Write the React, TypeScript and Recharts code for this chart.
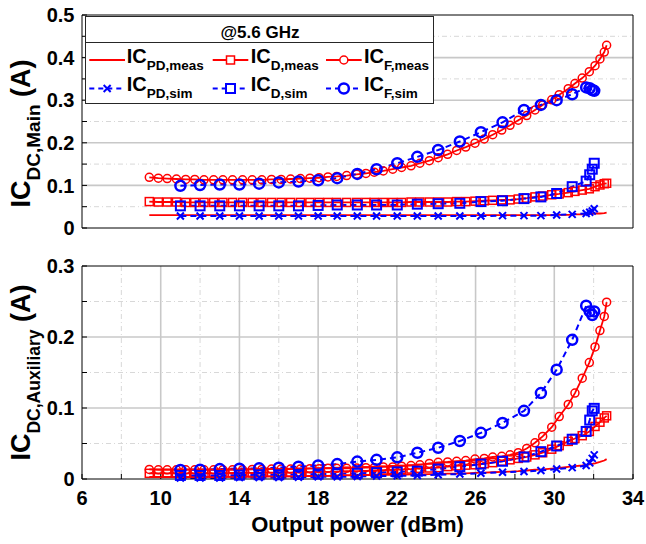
import React from 'react';
import { LineChart, Line, XAxis, YAxis, CartesianGrid, Legend } from 'recharts';

const FONT = '"Liberation Sans", Arial, Helvetica, sans-serif';
const RED = '#ff0000';
const BLUE = '#0000ff';

// ---------- data ----------
const measX = [9.42, 9.88, 10.33, 10.8, 11.27, 11.73, 12.2, 12.69, 13.16, 13.65, 14.16, 14.65, 15.14, 15.63, 16.12, 16.6, 17.1, 17.58, 18.05, 18.5, 18.94, 19.45, 19.96, 20.43, 20.85, 21.31, 21.79, 22.24, 22.72, 23.17, 23.65, 24.1, 24.58, 25.04, 25.5, 25.97, 26.44, 26.87, 27.33, 27.75, 28.17, 28.6, 29.02, 29.41, 29.87, 30.25, 30.71, 31.05, 31.42, 31.78, 32.07, 32.32, 32.54, 32.66];
const simX = [11, 12, 13, 14, 15, 16, 17, 18, 18.97, 19.99, 20.97, 22.02, 23.04, 24.1, 25.2, 26.27, 27.37, 28.46, 29.32, 30.12, 30.91, 31.62, 31.8, 31.93, 32.03];

// Main (top)
const mainPDmeas = [0.030, 0.030, 0.030, 0.030, 0.030, 0.030, 0.030, 0.030, 0.030, 0.030, 0.030, 0.030, 0.030, 0.030, 0.030, 0.030, 0.030, 0.030, 0.030, 0.030, 0.030, 0.030, 0.030, 0.030, 0.030, 0.030, 0.030, 0.030, 0.030, 0.030, 0.030, 0.030, 0.030, 0.030, 0.030, 0.030, 0.030, 0.030, 0.030, 0.030, 0.030, 0.030, 0.030, 0.030, 0.030, 0.031, 0.031, 0.032, 0.032, 0.033, 0.034, 0.034, 0.035, 0.036];
const mainDmeas = [0.062, 0.061, 0.061, 0.061, 0.060, 0.060, 0.060, 0.060, 0.060, 0.060, 0.060, 0.060, 0.060, 0.060, 0.060, 0.060, 0.060, 0.060, 0.060, 0.060, 0.060, 0.060, 0.060, 0.060, 0.060, 0.060, 0.060, 0.060, 0.061, 0.061, 0.061, 0.061, 0.061, 0.062, 0.062, 0.063, 0.064, 0.065, 0.066, 0.066, 0.068, 0.070, 0.073, 0.075, 0.078, 0.080, 0.083, 0.086, 0.089, 0.092, 0.097, 0.101, 0.104, 0.105];
const mainFmeas = [0.119, 0.117, 0.116, 0.115, 0.114, 0.114, 0.113, 0.113, 0.113, 0.113, 0.113, 0.113, 0.113, 0.114, 0.114, 0.115, 0.116, 0.117, 0.118, 0.120, 0.121, 0.123, 0.126, 0.128, 0.131, 0.134, 0.138, 0.142, 0.146, 0.152, 0.158, 0.165, 0.173, 0.182, 0.190, 0.199, 0.209, 0.219, 0.230, 0.241, 0.253, 0.264, 0.277, 0.289, 0.301, 0.313, 0.327, 0.339, 0.352, 0.367, 0.381, 0.397, 0.413, 0.429];
const mainPDsim = [0.028, 0.028, 0.028, 0.028, 0.028, 0.028, 0.028, 0.028, 0.028, 0.028, 0.028, 0.028, 0.028, 0.028, 0.028, 0.028, 0.029, 0.029, 0.029, 0.0305, 0.032, 0.034, 0.037, 0.040, 0.045];
const mainDsim = [0.052, 0.052, 0.052, 0.052, 0.052, 0.052, 0.052, 0.053, 0.054, 0.054, 0.054, 0.054, 0.056, 0.057, 0.058, 0.062, 0.064, 0.069, 0.073, 0.081, 0.097, 0.110, 0.125, 0.138, 0.152];
const mainFsim = [0.099, 0.101, 0.102, 0.102, 0.104, 0.107, 0.109, 0.112, 0.117, 0.127, 0.138, 0.152, 0.167, 0.183, 0.203, 0.225, 0.248, 0.277, 0.289, 0.300, 0.314, 0.330, 0.328, 0.324, 0.322];

// Auxiliary (bottom)
const auxPDmeas = [0.003, 0.003, 0.003, 0.003, 0.003, 0.003, 0.003, 0.003, 0.003, 0.003, 0.0035, 0.0035, 0.0035, 0.004, 0.004, 0.004, 0.004, 0.0045, 0.0045, 0.0045, 0.005, 0.005, 0.005, 0.0055, 0.0055, 0.006, 0.006, 0.006, 0.0065, 0.0065, 0.007, 0.007, 0.0075, 0.0075, 0.008, 0.0085, 0.009, 0.0095, 0.010, 0.0105, 0.011, 0.012, 0.013, 0.0135, 0.0145, 0.0155, 0.017, 0.018, 0.019, 0.0205, 0.022, 0.024, 0.026, 0.028];
const auxDmeas = [0.008, 0.008, 0.008, 0.008, 0.008, 0.008, 0.008, 0.008, 0.008, 0.0085, 0.0085, 0.0085, 0.009, 0.009, 0.009, 0.009, 0.0095, 0.0095, 0.010, 0.010, 0.0105, 0.011, 0.011, 0.0115, 0.012, 0.0125, 0.013, 0.0135, 0.014, 0.015, 0.0155, 0.016, 0.0175, 0.0185, 0.0195, 0.020, 0.0215, 0.023, 0.025, 0.027, 0.029, 0.031, 0.034, 0.037, 0.042, 0.047, 0.053, 0.057, 0.061, 0.067, 0.074, 0.080, 0.086, 0.089];
const auxFmeas = [0.0135, 0.013, 0.013, 0.013, 0.013, 0.013, 0.013, 0.013, 0.013, 0.013, 0.013, 0.0135, 0.0135, 0.014, 0.014, 0.014, 0.014, 0.0145, 0.0145, 0.015, 0.015, 0.015, 0.0155, 0.016, 0.016, 0.017, 0.017, 0.018, 0.019, 0.020, 0.022, 0.0235, 0.024, 0.025, 0.026, 0.028, 0.029, 0.031, 0.032, 0.034, 0.037, 0.043, 0.051, 0.060, 0.073, 0.088, 0.105, 0.121, 0.142, 0.164, 0.186, 0.209, 0.229, 0.249];
const auxPDsim = [0.0015, 0.0015, 0.0015, 0.002, 0.002, 0.002, 0.0025, 0.003, 0.003, 0.0035, 0.004, 0.0045, 0.005, 0.006, 0.007, 0.008, 0.0095, 0.0105, 0.012, 0.014, 0.016, 0.019, 0.023, 0.029, 0.034];
const auxDsim = [0.005, 0.005, 0.005, 0.0055, 0.006, 0.006, 0.0065, 0.007, 0.0075, 0.008, 0.009, 0.010, 0.011, 0.014, 0.0173, 0.021, 0.025, 0.031, 0.0385, 0.0465, 0.056, 0.067, 0.083, 0.096, 0.0995];
const auxFsim = [0.0127, 0.013, 0.014, 0.0146, 0.015, 0.016, 0.0174, 0.019, 0.021, 0.0245, 0.027, 0.0305, 0.037, 0.044, 0.0535, 0.065, 0.079, 0.096, 0.121, 0.154, 0.196, 0.244, 0.236, 0.231, 0.236];

// ticks / grid
const xTicks = [6, 8, 10, 12, 14, 16, 18, 20, 22, 24, 26, 28, 30, 32, 34];
const xTickLabels = ['6', '', '10', '', '14', '', '18', '', '22', '', '26', '', '30', '', '34'];
const xMajor = [10, 14, 18, 22, 26, 30];
const xMinor = [8, 12, 16, 20, 24, 28, 32];
const mainYTicks = [0, 0.05, 0.1, 0.15, 0.2, 0.25, 0.3, 0.35, 0.4, 0.45, 0.5];
const mainYTickLabels = ['0', '', '0.1', '', '0.2', '', '0.3', '', '0.4', '', '0.5'];
const mainYMajor = [0.1, 0.2, 0.3, 0.4];
const mainYMinor = [0.05, 0.15, 0.25, 0.35, 0.45];
const auxYTicks = [0, 0.05, 0.1, 0.15, 0.2, 0.25, 0.3];
const auxYTickLabels = ['0', '', '0.1', '', '0.2', '', '0.3'];
const auxYMajor = [0.1, 0.2];
const auxYMinor = [0.05, 0.15, 0.25];

const legendTitle = '@5.6 GHz';
const legendMain = 'IC';
const legendSubs = ['PD,meas', 'D,meas', 'F,meas', 'PD,sim', 'D,sim', 'F,sim'];
const xTitle = 'Output power (dBm)';

const toPts = (xs: number[], ys: number[]) => xs.map((x, i) => ({ x, y: ys[i] }));

// ---------- markers ----------
type DP = { cx?: number; cy?: number; index?: number };
const redCircle = (p: DP) => (
  <circle key={`rc${p.index}`} cx={p.cx} cy={p.cy} r={4} fill="none" stroke={RED} strokeWidth={1.5} />
);
const redSquare = (p: DP) => (
  <rect key={`rs${p.index}`} x={(p.cx as number) - 4} y={(p.cy as number) - 4} width={8} height={8} fill="none" stroke={RED} strokeWidth={1.5} />
);
const blueCircle = (p: DP) => (
  <circle key={`bc${p.index}`} cx={p.cx} cy={p.cy} r={5} fill="none" stroke={BLUE} strokeWidth={2.5} />
);
const blueSquare = (p: DP) => (
  <rect key={`bs${p.index}`} x={(p.cx as number) - 4.5} y={(p.cy as number) - 4.5} width={9} height={9} fill="none" stroke={BLUE} strokeWidth={2} />
);
const blueCross = (p: DP) => {
  const cx = p.cx as number, cy = p.cy as number, h = 3.5;
  return (
    <path key={`bx${p.index}`} d={`M${cx - h},${cy - h}L${cx + h},${cy + h}M${cx - h},${cy + h}L${cx + h},${cy - h}`} stroke={BLUE} strokeWidth={2} fill="none" />
  );
};

// ---------- legend ----------
const legCols = [{ x0: 4.3, x1: 40, tx: 41.7 }, { x0: 127.7, x1: 163.3, tx: 165.7 }, { x0: 241, x1: 276.7, tx: 279 }];
const legRows = [{ base: 47.3, ly: 44 }, { base: 74.7, ly: 72.5 }];
const legMarkers = [null, 'rs', 'rc', 'bx', 'bs', 'bc'];

const legendMarker = (kind: string | null, cx: number, cy: number) => {
  if (kind === 'rs') return <rect x={cx - 4} y={cy - 4} width={8} height={8} fill="#fff" stroke={RED} strokeWidth={1.5} />;
  if (kind === 'rc') return <circle cx={cx} cy={cy} r={4} fill="#fff" stroke={RED} strokeWidth={1.5} />;
  if (kind === 'bs') return <rect x={cx - 4.5} y={cy - 4.5} width={9} height={9} fill="#fff" stroke={BLUE} strokeWidth={2} />;
  if (kind === 'bc') return <circle cx={cx} cy={cy} r={5} fill="#fff" stroke={BLUE} strokeWidth={2.5} />;
  if (kind === 'bx') {
    const h = 3.5;
    return <path d={`M${cx - h},${cy - h}L${cx + h},${cy + h}M${cx - h},${cy + h}L${cx + h},${cy - h}`} stroke={BLUE} strokeWidth={2} />;
  }
  return null;
};

const LegendBox = () => (
  <svg width={350} height={89} style={{ display: 'block' }} fontFamily={FONT} fontWeight="bold">
    <rect x={0.5} y={0.5} width={348} height={87} fill="#fff" stroke="#262626" strokeWidth={1} />
    <text x={175} y={22} textAnchor="middle" fontSize={17} fill="#000">{legendTitle}</text>
    <line x1={0.5} x2={348.5} y1={26.5} y2={26.5} stroke="#262626" strokeWidth={1} />
    {legendSubs.map((sub, i) => {
      const col = legCols[i % 3];
      const row = legRows[Math.floor(i / 3)];
      const isSim = i >= 3;
      const color = isSim ? BLUE : RED;
      return (
        <g key={sub}>
          <line x1={col.x0} x2={col.x1} y1={row.ly} y2={row.ly} stroke={color} strokeWidth={isSim ? 2 : 1.8} strokeDasharray={isSim ? '5 4' : undefined} />
          {legendMarker(legMarkers[i], (col.x0 + col.x1) / 2, row.ly)}
          <text x={col.tx} y={row.base} fontSize={20} fill="#000">
            {legendMain}
            <tspan dy={7} fontSize={13.5}>{sub}</tspan>
          </text>
        </g>
      );
    })}
  </svg>
);

// ---------- labels ----------
const yLabel = (sub: string, subSize: number, shift: number) => (props: any) => {
  const vb = props && props.viewBox ? props.viewBox : { x: 0, y: 0, width: 82, height: 213 };
  const cx = vb.x + 30;
  const cy = vb.y + vb.height / 2 + shift;
  return (
    <text transform={`rotate(-90 ${cx} ${cy})`} x={cx} y={cy} textAnchor="middle" fontFamily={FONT} fontWeight="bold" fontSize={27} fill="#000">
      IC
      <tspan dy={10} fontSize={subSize}>{sub}</tspan>
      <tspan dy={-10}>{'\u00a0(A)'}</tspan>
    </text>
  );
};

const xLabel = (props: any) => {
  const vb = props && props.viewBox ? props.viewBox : { x: 82, y: 239, width: 551, height: 65 };
  return (
    <text x={vb.x + vb.width / 2} y={vb.y + 53} textAnchor="middle" fontFamily={FONT} fontWeight="bold" fontSize={22} fill="#000">
      {xTitle}
    </text>
  );
};

const tickStyle = { fontSize: 20, fontWeight: 'bold', fill: '#000', fontFamily: FONT };
const AXIS = '#000';

const grids = (yMajor: number[], yMinor: number[]) => [
  <CartesianGrid key="gmin" verticalValues={xMinor} horizontalValues={yMinor} stroke="#d8d8d8" strokeWidth={1} strokeDasharray="5 3 1 3" />,
  <CartesianGrid key="gmaj" verticalValues={xMajor} horizontalValues={yMajor} stroke="#c8c8c8" strokeWidth={1.6} />,
];

const seriesLines = (
  pdMeas: number[], dMeas: number[], fMeas: number[], pdSim: number[], dSim: number[], fSim: number[]
) => [
  <Line key="pdm" data={toPts(measX, pdMeas)} dataKey="y" stroke={RED} strokeWidth={1.8} dot={false} isAnimationActive={false} />,
  <Line key="dm" data={toPts(measX, dMeas)} dataKey="y" stroke={RED} strokeWidth={1.8} dot={redSquare} isAnimationActive={false} />,
  <Line key="fm" data={toPts(measX, fMeas)} dataKey="y" stroke={RED} strokeWidth={1.8} dot={redCircle} isAnimationActive={false} />,
  <Line key="pds" data={toPts(simX, pdSim)} dataKey="y" stroke={BLUE} strokeWidth={2} strokeDasharray="6 4" dot={blueCross} isAnimationActive={false} />,
  <Line key="ds" data={toPts(simX, dSim)} dataKey="y" stroke={BLUE} strokeWidth={2} strokeDasharray="6 4" dot={blueSquare} isAnimationActive={false} />,
  <Line key="fs" data={toPts(simX, fSim)} dataKey="y" stroke={BLUE} strokeWidth={2} strokeDasharray="6 4" dot={blueCircle} isAnimationActive={false} />,
];

export default function App() {
  return (
    <div style={{ position: 'absolute', left: 0, top: 0, width: 646, height: 544, background: '#fff', fontFamily: FONT }}>
      <div style={{ position: 'absolute', left: 0, top: 0 }}>
        <LineChart width={646} height={240} margin={{ top: 0, right: 0, bottom: 0, left: 0 }}>
          {grids(mainYMajor, mainYMinor)}
          <XAxis dataKey="x" type="number" domain={[6, 34]} ticks={xTicks} interval={0} tick={false} tickSize={-5} height={12} stroke={AXIS} />
          <XAxis xAxisId="top" orientation="top" dataKey="x" type="number" domain={[6, 34]} ticks={xTicks} interval={0} tick={false} tickSize={-5} height={15} stroke={AXIS} />
          <YAxis type="number" domain={[0, 0.5]} ticks={mainYTicks} interval={0} tickFormatter={(v: number, i: number) => mainYTickLabels[i]} tick={tickStyle} tickSize={-5} tickMargin={12.5} width={82} stroke={AXIS} label={yLabel('DC,Main', 19, 12)} />
          <YAxis yAxisId="right" orientation="right" type="number" domain={[0, 0.5]} ticks={mainYTicks} interval={0} tick={false} tickSize={-5} width={13} stroke={AXIS} />
          {seriesLines(mainPDmeas, mainDmeas, mainFmeas, mainPDsim, mainDsim, mainFsim)}
          <Legend content={() => <LegendBox />} layout="vertical" align="center" verticalAlign="middle" wrapperStyle={{ left: 85, top: 16, width: 350, height: 89 }} />
        </LineChart>
      </div>
      <div style={{ position: 'absolute', left: 0, top: 240 }}>
        <LineChart width={646} height={304} margin={{ top: 0, right: 0, bottom: 0, left: 0 }}>
          {grids(auxYMajor, auxYMinor)}
          <XAxis dataKey="x" type="number" domain={[6, 34]} ticks={xTicks} interval={0} tickFormatter={(v: number, i: number) => xTickLabels[i]} tick={tickStyle} tickSize={-5} tickMargin={17} height={65} stroke={AXIS} label={xLabel} />
          <XAxis xAxisId="top" orientation="top" dataKey="x" type="number" domain={[6, 34]} ticks={xTicks} interval={0} tick={false} tickSize={-5} height={26} stroke={AXIS} />
          <YAxis type="number" domain={[0, 0.3]} ticks={auxYTicks} interval={0} tickFormatter={(v: number, i: number) => auxYTickLabels[i]} tick={tickStyle} tickSize={-5} tickMargin={12.5} width={82} stroke={AXIS} label={yLabel('DC,Auxiliary', 17.5, 0)} />
          <YAxis yAxisId="right" orientation="right" type="number" domain={[0, 0.3]} ticks={auxYTicks} interval={0} tick={false} tickSize={-5} width={13} stroke={AXIS} />
          {seriesLines(auxPDmeas, auxDmeas, auxFmeas, auxPDsim, auxDsim, auxFsim)}
        </LineChart>
      </div>
    </div>
  );
}
